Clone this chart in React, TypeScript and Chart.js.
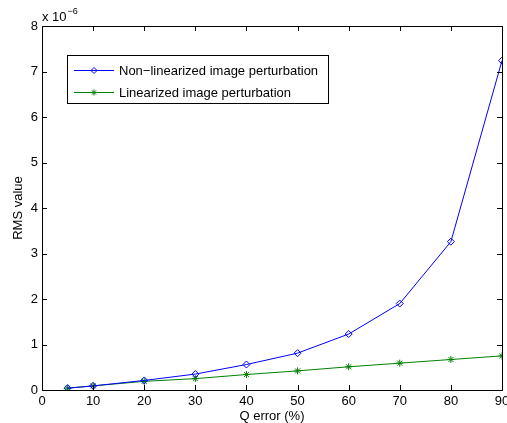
import React, { useEffect, useRef } from "react";
import { Chart, registerables } from "chart.js";

Chart.register(...registerables);

const qError = [5, 10, 20, 30, 40, 50, 60, 70, 80, 90];
// RMS values in units of 1e-6
const nonLinearized = [0.04, 0.09, 0.21, 0.35, 0.56, 0.81, 1.23, 1.9, 3.26, 7.24];
const linearized = [0.04, 0.09, 0.19, 0.25, 0.34, 0.42, 0.51, 0.59, 0.67, 0.75];
const xTicks = [0, 10, 20, 30, 40, 50, 60, 70, 80, 90];
const yTicks = [0, 1, 2, 3, 4, 5, 6, 7, 8];
const seriesNames = ["Non\u2212linearized image perturbation", "Linearized image perturbation"];
const xTitle = "Q error (%)";
const yTitle = "RMS value";
const exponentBase = "x 10";
const exponentPower = "\u22126";

const FONT = "'Liberation Sans', Arial, Helvetica, sans-serif";
const FS = 13;
const BLUE = "#0000ff";
const GREEN = "#008000";

const framePlugin = {
  id: "frame",
  afterDraw(chart: any) {
    const ctx = chart.ctx as CanvasRenderingContext2D;
    const { left, right, top, bottom } = chart.chartArea;
    const xs = chart.scales.x;
    const ys = chart.scales.y;
    ctx.save();
    ctx.strokeStyle = "#000";
    ctx.lineWidth = 1;
    ctx.strokeRect(Math.round(left) + 0.5, Math.round(top) + 0.5, Math.round(right - left), Math.round(bottom - top));
    const tl = 5;
    ctx.beginPath();
    for (const v of xTicks) {
      const px = Math.round(xs.getPixelForValue(v)) + 0.5;
      ctx.moveTo(px, bottom);
      ctx.lineTo(px, bottom - tl);
      ctx.moveTo(px, top);
      ctx.lineTo(px, top + tl);
    }
    for (const v of yTicks) {
      const py = Math.round(ys.getPixelForValue(v)) + 0.5;
      ctx.moveTo(left, py);
      ctx.lineTo(left + tl, py);
      ctx.moveTo(right, py);
      ctx.lineTo(right - tl, py);
    }
    ctx.stroke();

    // titles
    ctx.fillStyle = "#000";
    ctx.font = `${FS}px ${FONT}`;
    ctx.textAlign = "center";
    ctx.textBaseline = "middle";
    ctx.fillText(xTitle, (left + right) / 2, 416);
    ctx.save();
    ctx.translate(18, (top + bottom) / 2);
    ctx.rotate(-Math.PI / 2);
    ctx.fillText(yTitle, 0, 0);
    ctx.restore();

    // exponent
    ctx.textAlign = "left";
    ctx.textBaseline = "alphabetic";
    ctx.font = `${FS}px ${FONT}`;
    ctx.fillText(exponentBase, left, 21);
    const w = ctx.measureText(exponentBase).width;
    ctx.font = `9px ${FONT}`;
    ctx.fillText(exponentPower, left + w + 1, 14);

    // legend
    const lx = 67, ly = 55, lw = 261, lh = 48;
    ctx.fillStyle = "#fff";
    ctx.fillRect(lx, ly, lw, lh);
    ctx.strokeStyle = "#000";
    ctx.strokeRect(lx + 0.5, ly + 0.5, lw, lh);
    const rows = [
      { y: 70, color: BLUE, name: seriesNames[0] },
      { y: 92, color: GREEN, name: seriesNames[1] },
    ];
    for (const r of rows) {
      ctx.strokeStyle = r.color;
      ctx.lineWidth = 1;
      ctx.beginPath();
      ctx.moveTo(74, r.y + 0.5);
      ctx.lineTo(114, r.y + 0.5);
      ctx.stroke();
      ctx.fillStyle = "#000";
      ctx.font = `${FS}px ${FONT}`;
      ctx.textBaseline = "middle";
      ctx.fillText(r.name, 119, r.y + 1);
    }
    ctx.lineWidth = 1;
    ctx.strokeStyle = BLUE;
    ctx.beginPath();
    ctx.moveTo(94, 70.5 - 3);
    ctx.lineTo(97, 70.5);
    ctx.lineTo(94, 70.5 + 3);
    ctx.lineTo(91, 70.5);
    ctx.closePath();
    ctx.stroke();
    ctx.strokeStyle = GREEN;
    ctx.beginPath();
    const sx = 94, sy = 92.5, sr = 3;
    ctx.moveTo(sx - sr, sy);
    ctx.lineTo(sx + sr, sy);
    ctx.moveTo(sx, sy - sr);
    ctx.lineTo(sx, sy + sr);
    const d = sr * Math.SQRT1_2;
    ctx.moveTo(sx - d, sy - d);
    ctx.lineTo(sx + d, sy + d);
    ctx.moveTo(sx - d, sy + d);
    ctx.lineTo(sx + d, sy - d);
    ctx.stroke();
    ctx.restore();
  },
};

export default function App() {
  const ref = useRef<HTMLCanvasElement>(null);
  useEffect(() => {
    document.body.style.margin = "0";
    const chart = new Chart(ref.current!, {
      type: "line",
      data: {
        datasets: [
          {
            label: seriesNames[0],
            data: qError.map((x, i) => ({ x, y: nonLinearized[i] })),
            borderColor: BLUE,
            backgroundColor: "rgba(0,0,0,0)",
            borderWidth: 1,
            pointStyle: "rectRot",
            pointRadius: 3.5,
            pointBorderColor: BLUE,
            pointBackgroundColor: "rgba(0,0,0,0)",
            pointBorderWidth: 1,
          },
          {
            label: seriesNames[1],
            data: qError.map((x, i) => ({ x, y: linearized[i] })),
            borderColor: GREEN,
            backgroundColor: "rgba(0,0,0,0)",
            borderWidth: 1,
            pointStyle: "star",
            pointRadius: 3.5,
            pointBorderColor: GREEN,
            pointBackgroundColor: GREEN,
            pointBorderWidth: 1,
          },
        ],
      },
      options: {
        responsive: false,
        animation: false,
        events: [],
        layout: { padding: { top: 26, right: 4, left: 0, bottom: 0 } },
        plugins: { legend: { display: false }, tooltip: { enabled: false } },
        scales: {
          x: {
            type: "linear",
            min: 0,
            max: 90,
            grid: { display: false, drawTicks: false },
            border: { display: false },
            afterFit: (s: any) => { s.height = 33; s.paddingRight = 0; s.paddingLeft = 0; },
            ticks: {
              stepSize: 10,
              padding: 4,
              color: "#000",
              font: { size: FS, family: FONT },
              maxRotation: 0,
            },
          },
          y: {
            type: "linear",
            min: 0,
            max: 8,
            grid: { display: false, drawTicks: false },
            border: { display: false },
            afterFit: (s: any) => { s.width = 42; s.paddingTop = 0; s.paddingBottom = 0; },
            ticks: {
              stepSize: 1,
              padding: 4,
              color: "#000",
              font: { size: FS, family: FONT },
            },
          },
        },
      },
      plugins: [framePlugin],
    });
    return () => chart.destroy();
  }, []);
  return (
    <div style={{ width: 507, height: 423 }}>
      <canvas ref={ref} width={507} height={423} />
    </div>
  );
}
